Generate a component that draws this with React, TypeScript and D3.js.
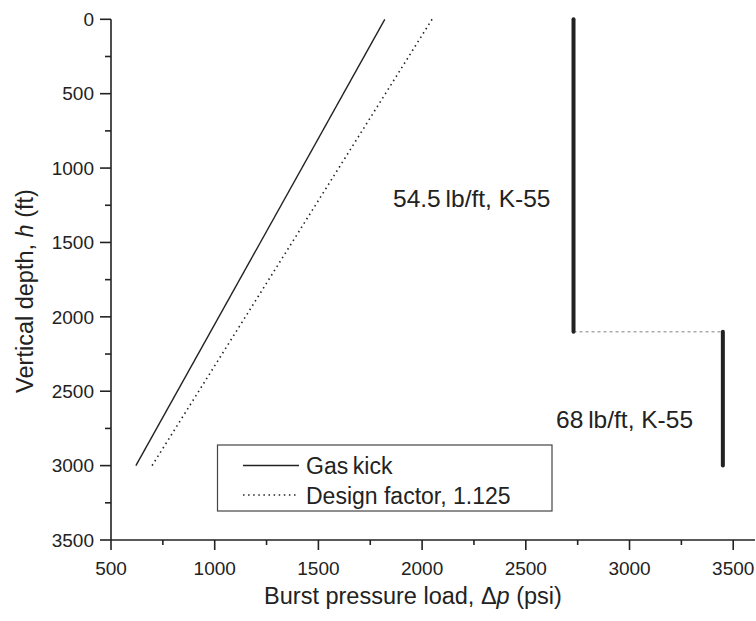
import React from "react";
import * as d3 from "d3";

const depths = [0, 3000];
const gasKick = [1820, 620];
const designFactor = [2048, 698];

const casingLabels = ["54.5\u2009lb/ft, K-55", "68\u2009lb/ft, K-55"];
const casingRatings = [2730, 3450];
const casingTop = [0, 2100];
const casingBottom = [2100, 3000];

const xMajorTicks = [500, 1000, 1500, 2000, 2500, 3000, 3500];
const xMinorTicks = [750, 1250, 1750, 2250, 2750, 3250];
const yMajorTicks = [0, 500, 1000, 1500, 2000, 2500, 3000, 3500];
const yMinorTicks = [250, 750, 1250, 1750, 2250, 2750, 3250];

const legendLabels = ["Gas\u2009kick", "Design factor, 1.125"];

const FONT = "'Liberation Sans', Arial, Helvetica, sans-serif";
const INK = "#222";

export default function App() {
  const x = d3.scaleLinear().domain([500, 3605]).range([111, 755]);
  const y = d3.scaleLinear().domain([0, 3500]).range([19.3, 540]);
  const line = d3
    .line<[number, number]>()
    .x((d) => x(d[0]))
    .y((d) => y(d[1]));

  const gk: [number, number][] = depths.map((d, i) => [gasKick[i], d]);
  const df: [number, number][] = depths.map((d, i) => [designFactor[i], d]);

  const x0 = x.range()[0];
  const y1 = y.range()[1];

  return (
    <svg
      width={756}
      height={621}
      style={{ position: "absolute", left: 0, top: 0, background: "#fff" }}
      fontFamily={FONT}
    >
      <rect x={0} y={0} width={756} height={621} fill="#fff" />
      {/* axes */}
      <line x1={x0} x2={x0} y1={y.range()[0]} y2={y1} stroke={INK} strokeWidth={1.6} />
      <line x1={x0} x2={x.range()[1]} y1={y1} y2={y1} stroke={INK} strokeWidth={1.6} />
      {xMajorTicks.map((t) => (
        <g key={"xm" + t}>
          <line x1={x(t)} x2={x(t)} y1={y1} y2={y1 + 10} stroke={INK} strokeWidth={1.6} />
          <text x={x(t)} y={575} textAnchor="middle" fontSize={19} fill={INK}>
            {t}
          </text>
        </g>
      ))}
      {xMinorTicks.map((t) => (
        <line key={"xn" + t} x1={x(t)} x2={x(t)} y1={y1} y2={y1 + 5} stroke={INK} strokeWidth={1.6} />
      ))}
      {yMajorTicks.map((t) => (
        <g key={"ym" + t}>
          <line x1={x0 - 11} x2={x0} y1={y(t)} y2={y(t)} stroke={INK} strokeWidth={1.6} />
          <text x={94} y={y(t) + 6.8} textAnchor="end" fontSize={19} fill={INK}>
            {t}
          </text>
        </g>
      ))}
      {yMinorTicks.map((t) => (
        <line key={"yn" + t} x1={x0 - 6} x2={x0} y1={y(t)} y2={y(t)} stroke={INK} strokeWidth={1.6} />
      ))}

      {/* axis titles */}
      <text x={413} y={604} textAnchor="middle" fontSize={23.5} fill={INK}>
        Burst pressure load, Δ<tspan fontStyle="italic">p</tspan> (psi)
      </text>
      <text
        transform="translate(33,291) rotate(-90)"
        textAnchor="middle"
        fontSize={23.5}
        fill={INK}
      >
        Vertical depth, <tspan fontStyle="italic">h</tspan> (ft)
      </text>

      {/* data lines */}
      <path d={line(gk) || ""} fill="none" stroke={INK} strokeWidth={1.4} />
      <path
        d={line(df) || ""}
        fill="none"
        stroke={INK}
        strokeWidth={1.6}
        strokeDasharray="1.5,3.6"
      />

      {/* casing */}
      <line
        x1={x(casingRatings[0])}
        x2={x(casingRatings[1])}
        y1={y(casingBottom[0])}
        y2={y(casingTop[1])}
        stroke="#aaa"
        strokeWidth={1.5}
        strokeDasharray="3,3"
      />
      {casingRatings.map((r, i) => (
        <line
          key={"c" + i}
          x1={x(r)}
          x2={x(r)}
          y1={y(casingTop[i])}
          y2={y(casingBottom[i])}
          stroke={INK}
          strokeWidth={4}
          strokeLinecap="round"
        />
      ))}
      <text x={393} y={206.5} fontSize={24.5} fill={INK}>
        {casingLabels[0]}
      </text>
      <text x={556} y={427.7} fontSize={24.5} fill={INK}>
        {casingLabels[1]}
      </text>

      {/* legend */}
      <rect x={217.5} y={445} width={334.5} height={66} fill="#fff" stroke="#444" strokeWidth={1.2} />
      <line x1={243} x2={299} y1={465.5} y2={465.5} stroke={INK} strokeWidth={1.4} />
      <line x1={243} x2={299} y1={495} y2={495} stroke={INK} strokeWidth={1.6} strokeDasharray="1.5,3.6" />
      <text x={306} y={474} fontSize={23} fill={INK}>
        {legendLabels[0]}
      </text>
      <text x={306} y={503.5} fontSize={23} fill={INK}>
        {legendLabels[1]}
      </text>
    </svg>
  );
}
